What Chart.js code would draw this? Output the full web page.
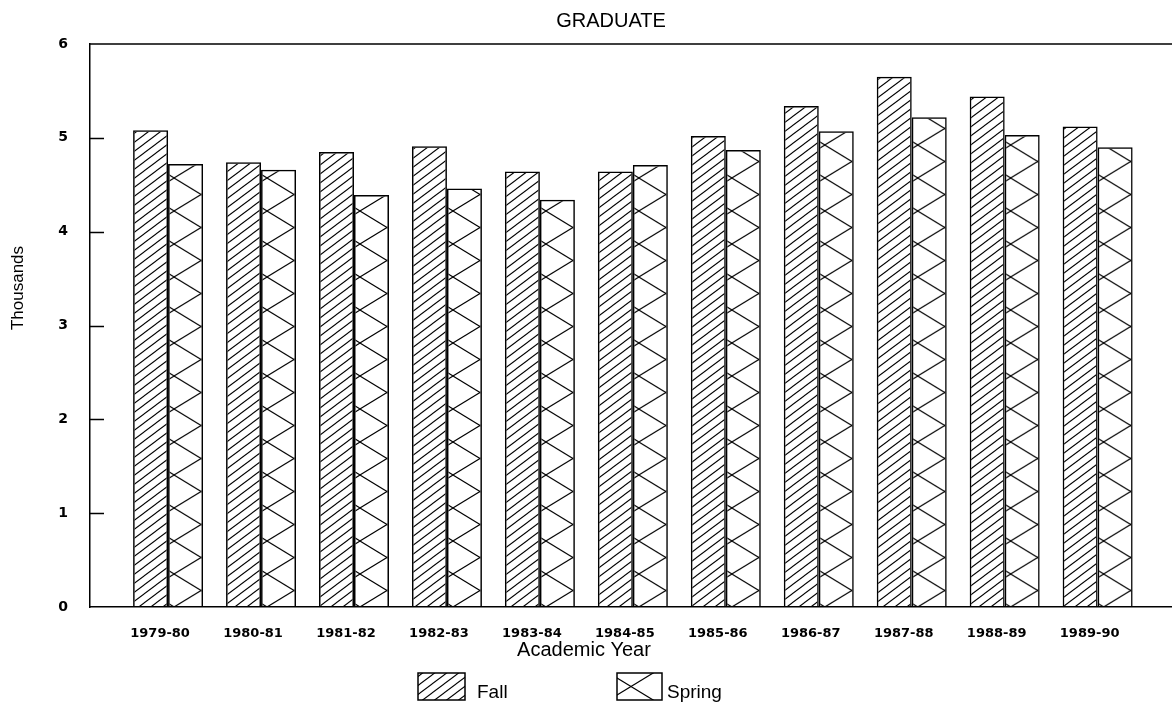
<!DOCTYPE html>
<html>
<head>
<meta charset="utf-8">
<script src="https://cdn.jsdelivr.net/npm/chart.js@4"></script>
<style>
  body { margin: 0; background: #fff; }
  canvas { display: block; }
</style>
</head>
<body>
<canvas id="chart" width="1172" height="704"></canvas>
<script>
const years = ['1979-80', '1980-81', '1981-82', '1982-83', '1983-84', '1984-85',
               '1985-86', '1986-87', '1987-88', '1988-89', '1989-90'];
const fall = [5.08, 4.74, 4.85, 4.91, 4.64, 4.64, 5.02, 5.34, 5.65, 5.44, 5.12];
const spring = [4.72, 4.66, 4.39, 4.46, 4.34, 4.71, 4.87, 5.07, 5.22, 5.03, 4.90];
const yTicks = [0, 1, 2, 3, 4, 5, 6];

// diagonal hatch tile for Fall
const hatchTile = document.createElement('canvas');
hatchTile.width = 12; hatchTile.height = 9;
(function () {
    const g = hatchTile.getContext('2d');
    g.strokeStyle = '#000';
    g.lineWidth = 1.1;
    for (let dx = -12; dx <= 12; dx += 12) {
        for (let dy = -9; dy <= 9; dy += 9) {
            g.beginPath();
            g.moveTo(dx, 9 + dy);
            g.lineTo(dx + 12, dy);
            g.stroke();
        }
    }
})();

// cross (diamond) tile for Spring
const crossTile = document.createElement('canvas');
crossTile.width = 54; crossTile.height = 33;
(function () {
    const g = crossTile.getContext('2d');
    g.strokeStyle = '#000';
    g.lineWidth = 1.1;
    for (let dx = -54; dx <= 54; dx += 54) {
        g.beginPath(); g.moveTo(dx, 0); g.lineTo(dx + 54, 33); g.stroke();
        g.beginPath(); g.moveTo(dx, 33); g.lineTo(dx + 54, 0); g.stroke();
    }
})();

const canvas = document.getElementById('chart');
const c2d = canvas.getContext('2d');
const hatch = c2d.createPattern(hatchTile, 'repeat');

function crossAt(x, y) {
    const p = c2d.createPattern(crossTile, 'repeat');
    p.setTransform(new DOMMatrix().translate(x, y));
    return p;
}

const tickFont = { family: 'DejaVu Sans', weight: 'bold', size: 13 };

const decorations = {
    id: 'decorations',
    afterDraw(chart) {
        const { ctx, chartArea: a, scales: { y } } = chart;
        ctx.save();
        ctx.strokeStyle = '#000';
        ctx.lineWidth = 1.5;
        ctx.beginPath();
        ctx.moveTo(a.left, a.top);
        ctx.lineTo(a.right, a.top);
        // inward tick marks
        yTicks.slice(1, -1).forEach(v => {
            const py = Math.round(y.getPixelForValue(v)) + 0.5;
            ctx.moveTo(a.left, py);
            ctx.lineTo(a.left + 14, py);
        });
        ctx.stroke();

        ctx.fillStyle = '#000';
        ctx.textAlign = 'center';
        ctx.textBaseline = 'alphabetic';
        ctx.font = '20px "Liberation Sans"';
        ctx.fillText('GRADUATE', 611, 27);
        ctx.fillText('Academic Year', 584, 656);

        // legend
        ctx.textAlign = 'left';
        ctx.font = '19px "Liberation Sans"';
        ctx.lineWidth = 1.5;
        ctx.fillStyle = hatch;
        ctx.fillRect(418, 673, 47, 27);
        ctx.strokeRect(418, 673, 47, 27);
        ctx.fillStyle = crossAt(604, 670);
        ctx.fillRect(617, 673, 45, 27);
        ctx.strokeRect(617, 673, 45, 27);
        ctx.fillStyle = '#000';
        ctx.fillText('Fall', 477, 698);
        ctx.fillText('Spring', 667, 698);

        // y axis title
        ctx.translate(18, 288);
        ctx.rotate(-Math.PI / 2);
        ctx.textAlign = 'center';
        ctx.textBaseline = 'middle';
        ctx.font = '17px "Liberation Sans"';
        ctx.fillText('Thousands', 0, 0);
        ctx.restore();
    }
};

new Chart(canvas, {
    type: 'bar',
    data: {
        datasets: [
            {
                label: 'Fall',
                data: fall.map((v, i) => ({ x: i, y: v })),
                backgroundColor: hatch,
                borderColor: '#000',
                borderWidth: 1.5
            },
            {
                label: 'Spring',
                data: spring.map((v, i) => ({ x: i, y: v })),
                backgroundColor: ctx => {
                    const xs = ctx.chart.scales.x;
                    const area = ctx.chart.chartArea;
                    if (ctx.type !== 'data' || !xs || !area) return crossAt(0, 0);
                    return crossAt(xs.getPixelForValue(ctx.dataIndex) + 6, area.bottom);
                },
                borderColor: '#000',
                borderWidth: 1.5
            }
        ]
    },
    options: {
        responsive: false,
        animation: false,
        events: [],
        categoryPercentage: 0.753,
        barPercentage: 1,
        layout: { padding: { top: 44, right: 0, bottom: 0, left: 0 } },
        plugins: {
            legend: { display: false },
            tooltip: { enabled: false },
            title: { display: false }
        },
        scales: {
            x: {
                type: 'linear',
                offset: false,
                min: -0.84,
                max: 10.8,
                afterBuildTicks: s => { s.ticks = years.map((_, i) => ({ value: i })); },
                afterFit: s => { s.height = 97; },
                grid: { display: false, drawTicks: false, offset: false },
                border: { color: '#000', width: 1.5 },
                ticks: {
                    padding: 19,
                    labelOffset: -8,
                    autoSkip: false,
                    maxRotation: 0,
                    color: '#000',
                    font: tickFont,
                    callback: v => years[v] ?? ''
                }
            },
            y: {
                min: 0,
                max: 6,
                afterFit: s => { s.width = 90; },
                grid: { display: false, drawTicks: false },
                border: { color: '#000', width: 1.5 },
                ticks: { stepSize: 1, padding: 22, color: '#000', font: { family: 'DejaVu Sans', weight: 'bold', size: 14 } }
            }
        }
    },
    plugins: [decorations]
});
</script>
</body>
</html>
